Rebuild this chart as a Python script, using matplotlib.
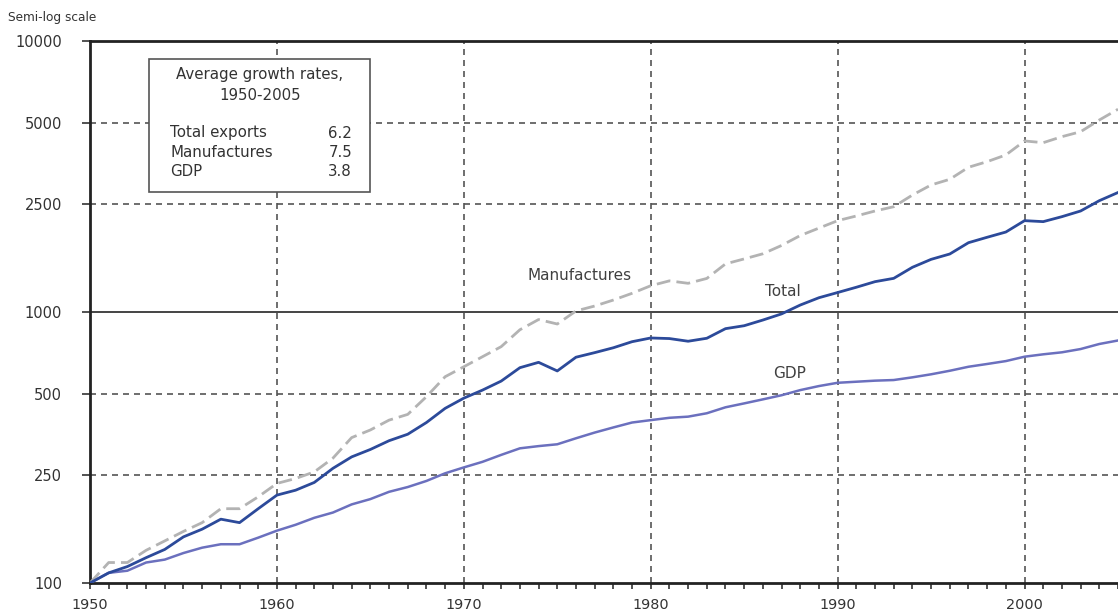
import numpy as np
import matplotlib
matplotlib.use("Agg")
import matplotlib.pyplot as plt
from matplotlib.patches import Rectangle

plt.rcParams['font.family'] = ['DejaVu Sans']

# Index, 1950 = 100
years = list(range(1950, 2006))

total_exports = [
    100, 109, 115, 124, 133, 148, 158, 172, 167, 188,
    211, 220, 235, 265, 292, 311, 335, 354, 391, 441,
    481, 515, 556, 623, 652, 606, 681, 708, 738, 777,
    802, 798, 780, 800, 868, 890, 934, 984, 1061, 1129,
    1180, 1234, 1294, 1331, 1462, 1564, 1637, 1802, 1887, 1973,
    2173, 2155, 2248, 2359, 2575, 2760,
]

manufactures = [
    100, 119, 119, 132, 143, 155, 167, 188, 188, 208,
    233, 243, 257, 289, 344, 367, 399, 419, 487, 577,
    628, 684, 745, 860, 938, 903, 1009, 1052, 1107, 1172,
    1250, 1303, 1276, 1330, 1505, 1570, 1640, 1760, 1915, 2040,
    2173, 2261, 2359, 2446, 2701, 2943, 3088, 3420, 3588, 3797,
    4277, 4215, 4436, 4627, 5110, 5600,
]

gdp = [
    100, 109, 111, 119, 122, 129, 135, 139, 139, 147,
    156, 164, 174, 182, 195, 204, 217, 226, 238, 254,
    267, 280, 297, 314, 320, 325, 342, 359, 375, 391,
    399, 407, 411, 423, 445, 460, 476, 493, 515, 533,
    548, 553, 558, 561, 574, 589, 607, 628, 643, 659,
    684, 698, 710, 730, 762, 785,
]

y_ticks = [100, 250, 500, 1000, 2500, 5000, 10000]
x_ticks = [1950, 1960, 1970, 1980, 1990, 2000]
dashed_levels = [250, 500, 2500, 5000]
dashed_years = [1960, 1970, 1980, 1990, 2000]

growth_labels = ["Total exports", "Manufactures", "GDP"]
growth_rates = ["6.2", "7.5", "3.8"]

W, H = 1118, 614
fig = plt.figure(figsize=(W / 100, H / 100), dpi=100)
fig.patch.set_facecolor("white")


def fpos(x, y):
    """pixel position -> figure fraction"""
    return x / W, 1 - y / H


ax = fig.add_axes([90 / W, (H - 583) / H, (W - 90) / W, (583 - 41) / H])
ax.set_yscale("log")
ax.set_ylim(100, 10000)
ax.set_xlim(1950, 1950 + (W - 91) / 18.83)

grid_kw = dict(color="#555555", lw=1.2, ls=(0, (3.6, 3.0)), zorder=1)
for lv in dashed_levels:
    ax.axhline(lv, **grid_kw)
for yr in dashed_years:
    ax.axvline(yr, **grid_kw)
ax.axhline(1000, color="#444444", lw=1.4, zorder=1)

ax.plot(years, gdp, color="#6B70BE", lw=1.8, zorder=3)
ax.plot(years, manufactures, color="#B3B3B3", lw=2.0,
        dashes=(5, 2.2), zorder=3)
ax.plot(years, total_exports, color="#2C4A9A", lw=2.0, zorder=4)

ax.set_yticks(y_ticks)
ax.set_yticklabels([str(v) for v in y_ticks])
ax.yaxis.set_minor_locator(matplotlib.ticker.NullLocator())
ax.set_xticks(x_ticks)
ax.set_xticklabels([str(v) for v in x_ticks])
ax.set_xticks(years, minor=True)

ax.tick_params(axis="y", which="major", direction="out", length=6,
               width=1.2, color="#333333", pad=14, labelsize=10.5,
               labelcolor="#333333")
ax.tick_params(axis="x", which="both", direction="out", length=4,
               width=1.2, color="#333333", pad=7, labelsize=10.4,
               labelcolor="#333333")

for side in ("left", "bottom", "top"):
    ax.spines[side].set_color("#222222")
    ax.spines[side].set_linewidth(2.0)
ax.spines["right"].set_visible(False)

# Series labels
lab_kw = dict(fontsize=11, color="#404040", ha="center", va="center",
              transform=fig.transFigure)
fig.text(*fpos(580, 275), "Manufactures", **lab_kw)
fig.text(*fpos(783, 291), "Total", **lab_kw)
fig.text(*fpos(790, 374), "GDP", **lab_kw)

fig.text(*fpos(8, 18), "Semi-log scale", fontsize=8.7, color="#333333",
         ha="left", va="center")

# Growth-rate box
x0, y0 = fpos(149, 192)
x1, y1 = fpos(370, 59)
fig.patches.append(Rectangle((x0, y0), x1 - x0, y1 - y0,
                             transform=fig.transFigure, facecolor="white",
                             edgecolor="#555555", lw=1.2, zorder=5))
box_kw = dict(fontsize=10.8, color="#333333", va="center", zorder=6)
fig.text(*fpos(260, 75), "Average growth rates,", ha="center", **box_kw)
fig.text(*fpos(260, 95), "1950-2005", ha="center", **box_kw)
for i, (name, rate) in enumerate(zip(growth_labels, growth_rates)):
    yy = 133 + i * 19.5
    fig.text(*fpos(170, yy), name, ha="left", **box_kw)
    fig.text(*fpos(352, yy), rate, ha="right", **box_kw)

fig.savefig("out.png", dpi=100, facecolor="white")
